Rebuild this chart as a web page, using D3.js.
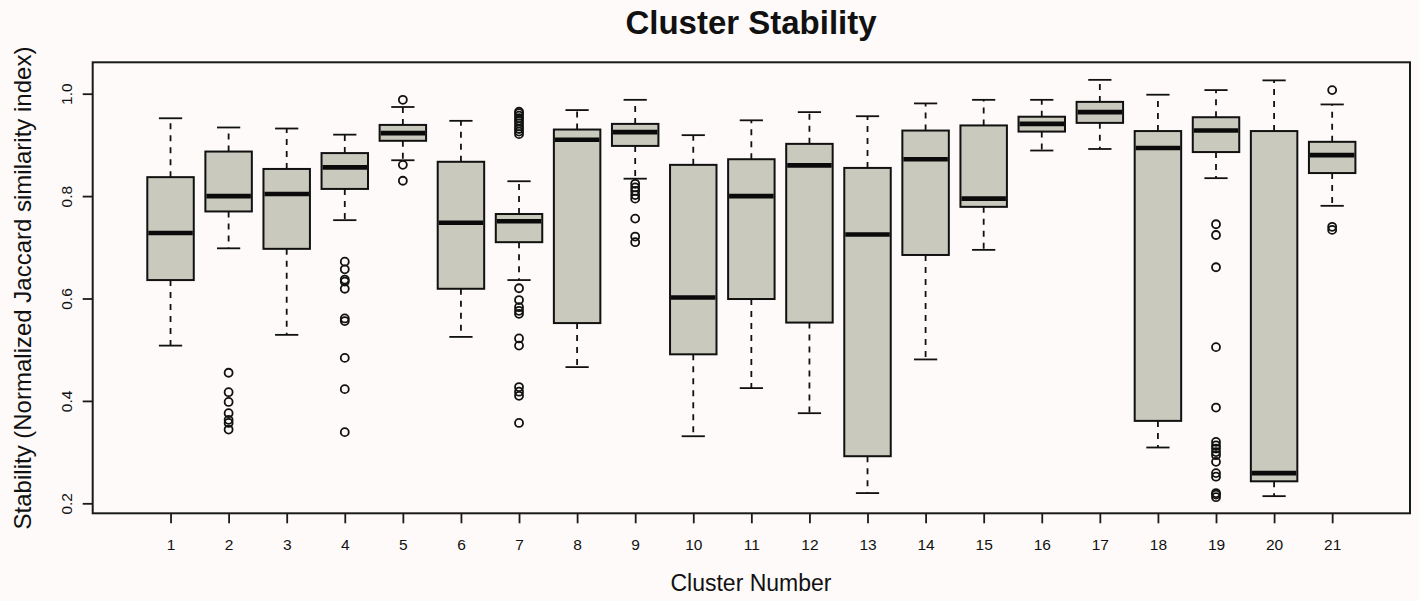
<!DOCTYPE html>
<html>
<head>
<meta charset="utf-8">
<script src="https://cdn.jsdelivr.net/npm/d3@7"></script>
<style>
body { margin: 0; background: #fdfaf9; }
text { font-family: "Liberation Sans", Arial, Helvetica, sans-serif; fill: #111; }
</style>
</head>
<body>
<div id="chart"></div>
<script>
// values
var clusters = d3.range(1, 22)
var whiskerHigh = [0.952, 0.934, 0.932, 0.920, 0.974, 0.947, 0.829, 0.968, 0.988, 0.919, 0.948, 0.964, 0.956, 0.981, 0.988, 0.988, 1.027, 0.998, 1.007, 1.026, 0.979]
var q3 = [0.837, 0.887, 0.853, 0.884, 0.939, 0.867, 0.765, 0.930, 0.941, 0.861, 0.872, 0.902, 0.855, 0.928, 0.938, 0.955, 0.984, 0.927, 0.954, 0.927, 0.906]
var median = [0.728, 0.800, 0.804, 0.856, 0.923, 0.748, 0.751, 0.910, 0.925, 0.602, 0.800, 0.860, 0.725, 0.872, 0.795, 0.941, 0.964, 0.894, 0.928, 0.259, 0.880]
var q1 = [0.636, 0.770, 0.697, 0.814, 0.908, 0.619, 0.710, 0.552, 0.898, 0.491, 0.599, 0.553, 0.292, 0.685, 0.779, 0.926, 0.943, 0.361, 0.886, 0.243, 0.845]
var whiskerLow = [0.508, 0.698, 0.529, 0.753, 0.870, 0.525, 0.636, 0.466, 0.834, 0.331, 0.425, 0.376, 0.220, 0.481, 0.695, 0.889, 0.892, 0.309, 0.835, 0.214, 0.781]
var outliers = [
	[],
	[0.455, 0.417, 0.398, 0.376, 0.363, 0.357, 0.344],
	[],
	[0.672, 0.657, 0.637, 0.633, 0.619, 0.561, 0.556, 0.484, 0.423, 0.339],
	[0.988, 0.861, 0.830],
	[],
	[0.965, 0.962, 0.957, 0.952, 0.947, 0.942, 0.936, 0.931, 0.926, 0.921, 0.620, 0.597, 0.583, 0.576, 0.570, 0.522, 0.508, 0.427, 0.418, 0.410, 0.357],
	[],
	[0.824, 0.817, 0.810, 0.802, 0.795, 0.756, 0.721, 0.710],
	[], [], [], [], [], [], [], [], [],
	[0.745, 0.724, 0.661, 0.505, 0.387, 0.320, 0.313, 0.307, 0.300, 0.294, 0.281, 0.259, 0.252, 0.220, 0.217, 0.212],
	[],
	[1.007, 0.740, 0.734]
]
var yTicks = [0.2, 0.4, 0.6, 0.8, 1.0]

var width = 1419, height = 601
var svg = d3.select("#chart").append("svg").attr("width", width).attr("height", height)
	.style("background", "#fdfaf9")

var x = d3.scaleLinear().domain([-0.34, 22.34]).range([92.7, 1410])
var y = d3.scaleLinear().domain([0.1805, 1.0613]).range([513.3, 62.3])

var boxW = x(0.8) - x(0)
var capW = x(0.4) - x(0)
var ink = "#111"

var data = clusters.map(function(c, i) {
	return {c: c, lo: whiskerLow[i], q1: q1[i], med: median[i], q3: q3[i], hi: whiskerHigh[i], out: outliers[i]}
})

var g = svg.selectAll("g.box").data(data).enter().append("g").attr("class", "box")

// whiskers
g.append("line")
	.attr("x1", function(d){return x(d.c)}).attr("x2", function(d){return x(d.c)})
	.attr("y1", function(d){return y(d.q3)}).attr("y2", function(d){return y(d.hi)})
	.attr("stroke", ink).attr("stroke-width", 1.8).attr("stroke-dasharray", "6,6")
g.append("line")
	.attr("x1", function(d){return x(d.c)}).attr("x2", function(d){return x(d.c)})
	.attr("y1", function(d){return y(d.q1)}).attr("y2", function(d){return y(d.lo)})
	.attr("stroke", ink).attr("stroke-width", 1.8).attr("stroke-dasharray", "6,6")

// staples
g.append("line")
	.attr("x1", function(d){return x(d.c) - capW / 2}).attr("x2", function(d){return x(d.c) + capW / 2})
	.attr("y1", function(d){return y(d.hi)}).attr("y2", function(d){return y(d.hi)})
	.attr("stroke", ink).attr("stroke-width", 1.8)
g.append("line")
	.attr("x1", function(d){return x(d.c) - capW / 2}).attr("x2", function(d){return x(d.c) + capW / 2})
	.attr("y1", function(d){return y(d.lo)}).attr("y2", function(d){return y(d.lo)})
	.attr("stroke", ink).attr("stroke-width", 1.8)

// boxes
g.append("rect")
	.attr("x", function(d){return x(d.c) - boxW / 2})
	.attr("width", boxW)
	.attr("y", function(d){return y(d.q3)})
	.attr("height", function(d){return y(d.q1) - y(d.q3)})
	.attr("fill", "#c9c9bd").attr("stroke", ink).attr("stroke-width", 2)

// medians
g.append("line")
	.attr("x1", function(d){return x(d.c) - boxW / 2 + 1}).attr("x2", function(d){return x(d.c) + boxW / 2 - 1})
	.attr("y1", function(d){return y(d.med)}).attr("y2", function(d){return y(d.med)})
	.attr("stroke", "#0a0a0a").attr("stroke-width", 4.6)

// outliers
g.selectAll("circle").data(function(d){return d.out.map(function(v){return {c: d.c, v: v}})})
	.enter().append("circle")
	.attr("cx", function(d){return x(d.c)})
	.attr("cy", function(d){return y(d.v)})
	.attr("r", 4)
	.attr("fill", "none").attr("stroke", ink).attr("stroke-width", 1.8)

// frame
svg.append("rect").attr("x", 92.7).attr("y", 62.3).attr("width", 1410 - 92.7).attr("height", 513.3 - 62.3)
	.attr("fill", "none").attr("stroke", "#1a1a1a").attr("stroke-width", 2)

// axes
var yAxis = svg.append("g").attr("transform", "translate(92.7,0)")
	.call(d3.axisLeft(y).tickValues(yTicks).tickFormat(d3.format(".1f")).tickSize(10).tickSizeOuter(0))
yAxis.select(".domain").remove()
yAxis.selectAll("line").attr("stroke", "#1a1a1a").attr("stroke-width", 1.8)
yAxis.selectAll("text")
	.attr("x", 0).attr("dy", 0)
	.attr("transform", "translate(-21,0) rotate(-90)")
	.attr("text-anchor", "middle")
	.style("font-size", "15.5px").style("font-family", "Liberation Sans, Arial, sans-serif").attr("fill", "#111")

var xAxis = svg.append("g").attr("transform", "translate(0,513.3)")
	.call(d3.axisBottom(x).tickValues(clusters).tickFormat(d3.format("d")).tickSize(10).tickPadding(16).tickSizeOuter(0))
xAxis.select(".domain").remove()
xAxis.selectAll("line").attr("stroke", "#1a1a1a").attr("stroke-width", 1.8)
xAxis.selectAll("text")
	.style("font-size", "15.5px").style("font-family", "Liberation Sans, Arial, sans-serif").attr("fill", "#111")

// titles
svg.append("text").attr("x", 751).attr("y", 34).attr("text-anchor", "middle")
	.style("font-size", "33px").style("font-weight", "bold")
	.text("Cluster Stability")

svg.append("text").attr("x", 751).attr("y", 591).attr("text-anchor", "middle")
	.style("font-size", "23px")
	.text("Cluster Number")

svg.append("text").attr("transform", "translate(31,288) rotate(-90)").attr("text-anchor", "middle")
	.style("font-size", "24px")
	.text("Stability (Normalized Jaccard similarity index)")
</script>
</body>
</html>
